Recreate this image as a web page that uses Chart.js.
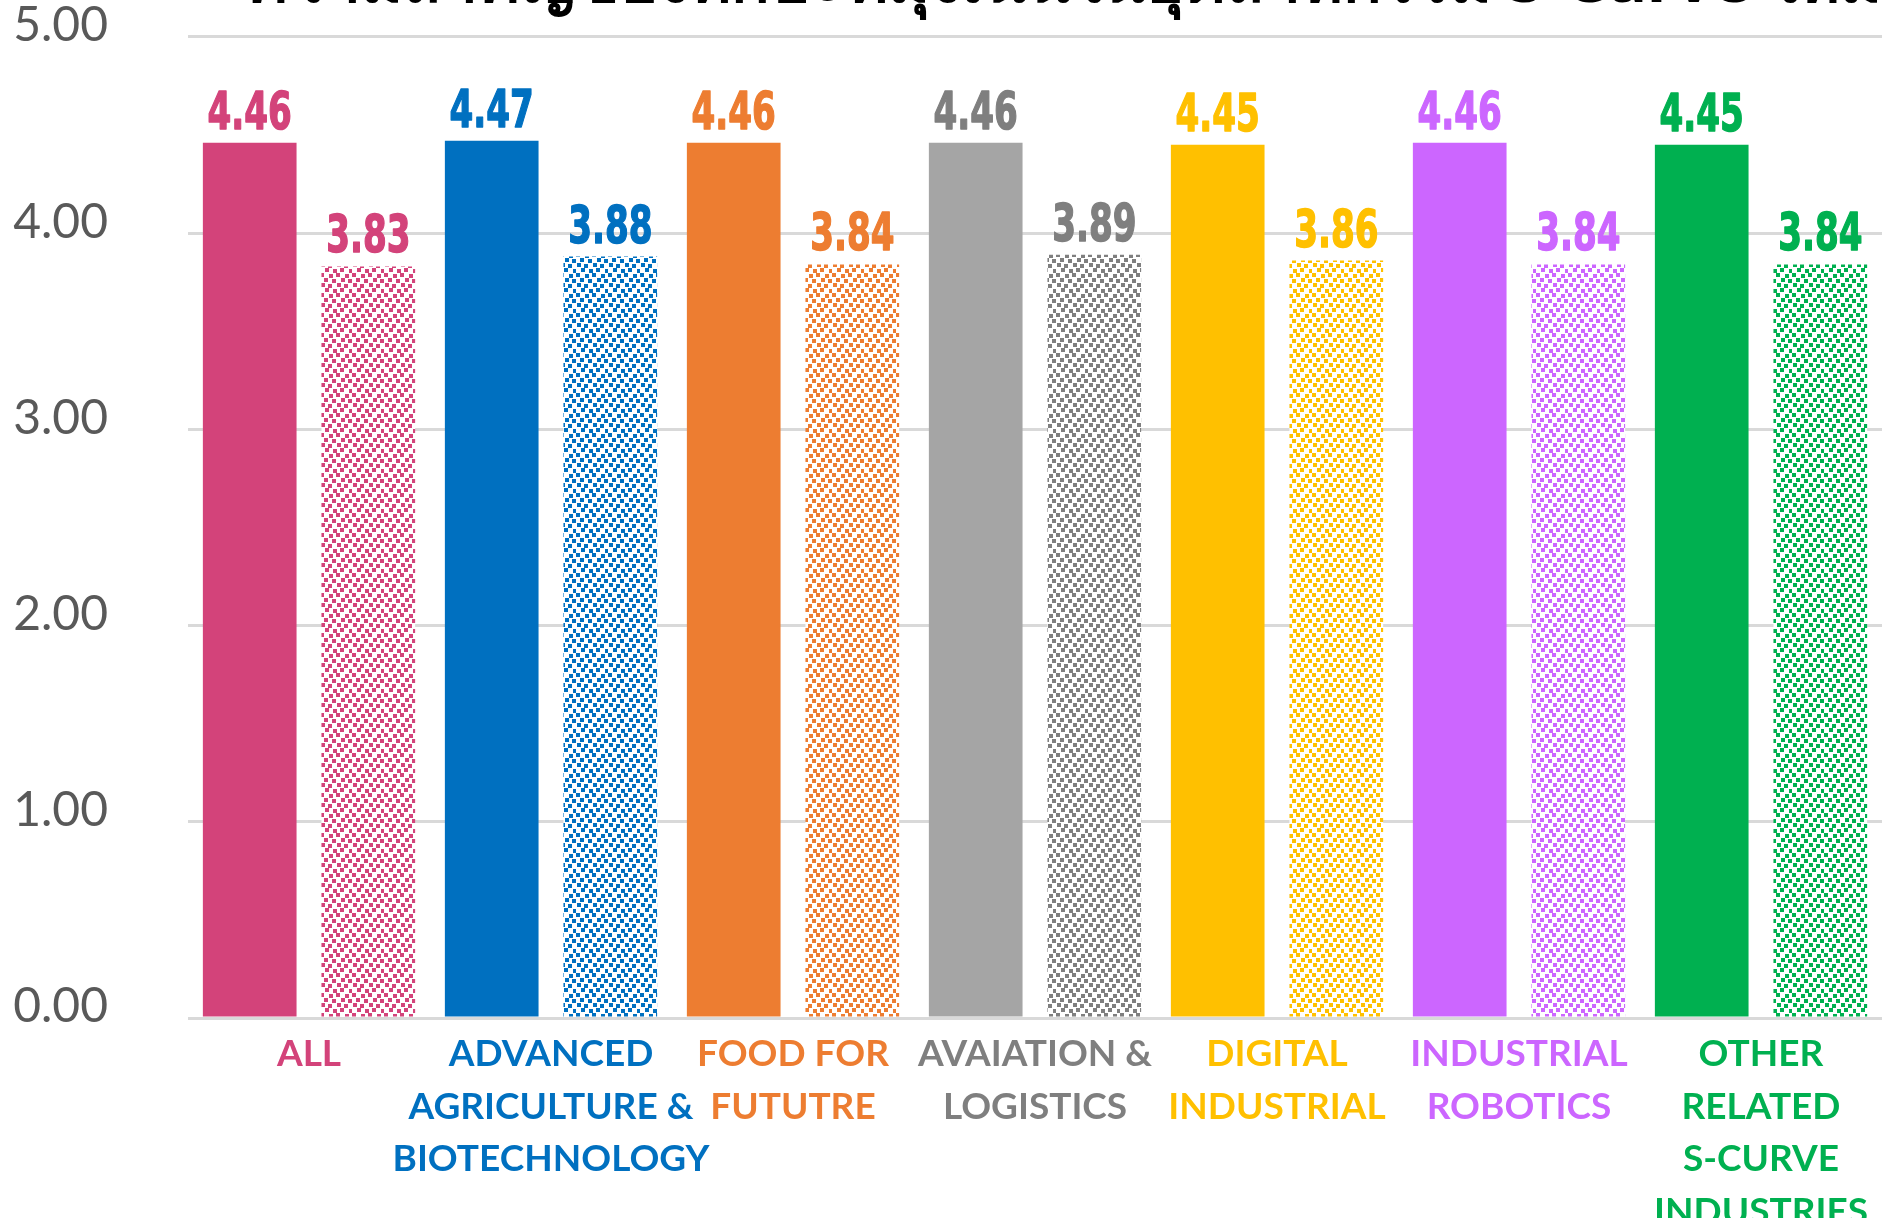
<!DOCTYPE html>
<html lang="th">
<head>
<meta charset="UTF-8">
<title>S-Curve chart</title>
<script src="https://cdn.jsdelivr.net/npm/chart.js"></script>
<style>
    html, body {
        margin: 0;
        padding: 0;
        background: #fff;
        overflow: hidden;
    }
    .wrap {
        position: absolute;
        left: 0;
        top: -67px;
        width: 1882px;
        height: 1285px;
    }
</style>
</head>
<body>
<div class="wrap">
    <canvas id="grafico"></canvas>
</div>

<script>
// ---- data ----
const titulo = 'ความสำคัญของทักษะที่มุ่งเน้นในอุตสาหกรรม S-Curve ใหม่';

const categorias = [
    ['ALL'],
    ['ADVANCED', 'AGRICULTURE &', 'BIOTECHNOLOGY'],
    ['FOOD FOR', 'FUTUTRE'],
    ['AVAIATION &', 'LOGISTICS'],
    ['DIGITAL', 'INDUSTRIAL'],
    ['INDUSTRIAL', 'ROBOTICS'],
    ['OTHER', 'RELATED', 'S-CURVE', 'INDUSTRIES']
];

const valoresCheios = [4.46, 4.47, 4.46, 4.46, 4.45, 4.46, 4.45];
const valoresPontilhados = [3.83, 3.88, 3.84, 3.89, 3.86, 3.84, 3.84];

const yMin = 0;
const yMax = 5;
const yPasso = 1;

// colours per category
const coresBarra = ['#D3437A', '#0070C0', '#ED7D31', '#A5A5A5', '#FFC000', '#CC66FF', '#00B050'];
const coresTexto = ['#D3437A', '#0070C0', '#ED7D31', '#7F7F7F', '#FFC000', '#CC66FF', '#00B050'];

// confetti pattern (white background, small coloured squares)
function padrao(cor) {
    const c = document.createElement('canvas');
    c.width = 32;
    c.height = 20;
    const ctx = c.getContext('2d');
    ctx.fillStyle = '#fff';
    ctx.fillRect(0, 0, 32, 20);
    ctx.fillStyle = cor;
    const pts = [
        [0, 0], [9, 1], [16, 0], [25, 1],
        [4, 5], [12, 6], [21, 5], [28, 6],
        [1, 10], [8, 11], [17, 10], [24, 11],
        [5, 15], [13, 16], [20, 15], [29, 16]
    ];
    pts.forEach(p => ctx.fillRect(p[0], p[1], 4, 4));
    return ctx.createPattern(c, 'repeat');
}

const padroes = coresTexto.map(padrao);

// value labels above bars
const rotulos = {
    id: 'rotulos',
    afterDatasetsDraw(chart) {
        const ctx = chart.ctx;
        ctx.save();
        ctx.font = 'bold 51px "DejaVu Sans", sans-serif';
        ctx.textAlign = 'center';
        ctx.textBaseline = 'alphabetic';
        ctx.lineWidth = 1.5;
        ctx.lineJoin = 'round';
        chart.data.datasets.forEach((ds, d) => {
            const meta = chart.getDatasetMeta(d);
            meta.data.forEach((bar, i) => {
                ctx.save();
                ctx.fillStyle = coresTexto[i];
                ctx.strokeStyle = coresTexto[i];
                ctx.translate(bar.x, bar.y - 14);
                ctx.scale(0.67, 1);
                ctx.fillText(ds.data[i].toFixed(2), 0, 0);
                ctx.strokeText(ds.data[i].toFixed(2), 0, 0);
                ctx.restore();
            });
        });
        ctx.restore();
    }
};

var grafico = document.getElementById('grafico');
var barChart = new Chart(grafico, {
    type: 'bar',
    data: {
        labels: categorias,
        datasets: [{
            label: 'Series 1',
            data: valoresCheios,
            backgroundColor: coresBarra,
            borderWidth: 0
        }, {
            label: 'Series 2',
            data: valoresPontilhados,
            backgroundColor: padroes,
            borderWidth: 0
        }]
    },
    options: {
        responsive: true,
        maintainAspectRatio: false,
        animation: false,
        categoryPercentage: 0.98,
        barPercentage: 0.79,
        layout: {
            padding: { left: 12, right: 0, top: 0, bottom: 0 }
        },
        plugins: {
            legend: { display: false },
            tooltip: { enabled: false },
            title: {
                display: true,
                text: titulo,
                align: 'end',
                color: '#000',
                font: { size: 64, weight: 'bold', family: '"Noto Sans", sans-serif' },
                padding: { top: 12, bottom: 15 }
            }
        },
        scales: {
            x: {
                grid: { display: false },
                border: { display: false },
                ticks: {
                    autoSkip: false,
                    maxRotation: 0,
                    padding: 2,
                    color: (c) => coresTexto[c.index],
                    font: { family: 'Lato', size: 37, weight: 'bold', lineHeight: 1.42 }
                },
                afterFit: (s) => { s.height = 200; }
            },
            y: {
                min: yMin,
                max: yMax,
                border: { display: false },
                grid: {
                    color: '#D9D9D9',
                    lineWidth: 3,
                    drawTicks: true,
                    tickLength: 80,
                    tickColor: 'rgba(0,0,0,0)'
                },
                ticks: {
                    stepSize: yPasso,
                    padding: 0,
                    labelOffset: -11,
                    color: '#595959',
                    font: { family: 'Lato', size: 48 },
                    callback: (v) => v.toFixed(2)
                },
                afterFit: (s) => { s.width = 176; }
            }
        }
    },
    plugins: [rotulos]
});
</script>
</body>
</html>
